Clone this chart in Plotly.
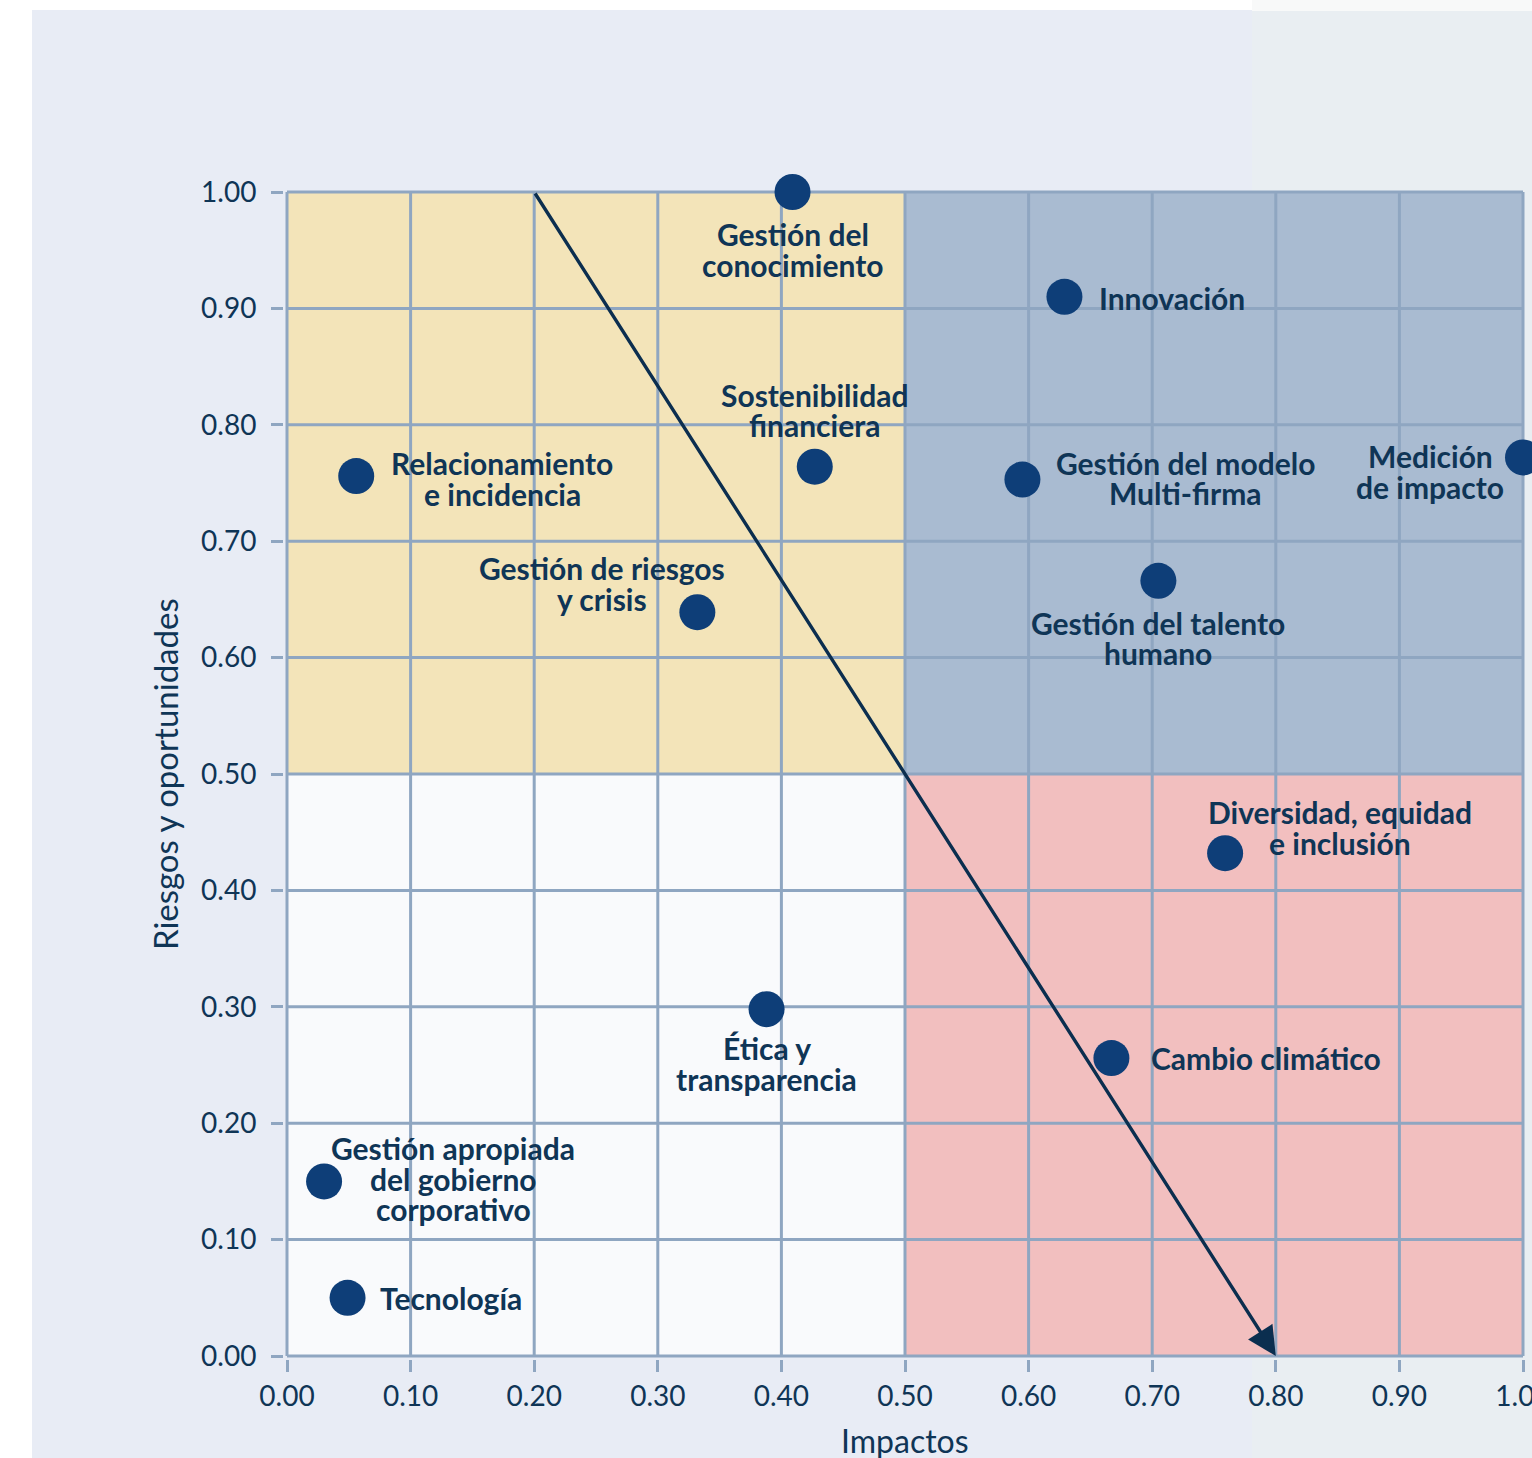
import plotly.graph_objects as go

# ---------------- data ----------------
topics = [
    "Gestión del<br>conocimiento",
    "Innovación",
    "Sostenibilidad<br>financiera",
    "Relacionamiento<br>e incidencia",
    "Gestión del modelo<br>Multi-firma",
    "Medición<br>de impacto",
    "Gestión del talento<br>humano",
    "Gestión de riesgos<br>y crisis",
    "Diversidad, equidad<br>e inclusión",
    "Ética y<br>transparencia",
    "Cambio climático",
    "Gestión apropiada<br>del gobierno<br>corporativo",
    "Tecnología",
]
impactos = [0.409, 0.629, 0.427, 0.056, 0.595, 1.00, 0.705, 0.332, 0.759, 0.388, 0.667, 0.030, 0.049]
riesgos = [1.00, 0.910, 0.764, 0.756, 0.753, 0.772, 0.666, 0.639, 0.432, 0.298, 0.256, 0.150, 0.050]

tick_vals = [0.0, 0.1, 0.2, 0.3, 0.4, 0.5, 0.6, 0.7, 0.8, 0.9, 1.0]
tick_text = ["0.00", "0.10", "0.20", "0.30", "0.40", "0.50", "0.60", "0.70", "0.80", "0.90", "1.00"]

arrow_start = (0.2, 1.0)
arrow_end = (0.8, 0.0)

x_title = "Impactos"
y_title = "Riesgos y oportunidades"

# ---------------- style ----------------
W, H = 1532, 1458
PX_X = 1236.0   # pixels per unit on x
PX_Y = 1164.0   # pixels per unit on y
PAD = 3
L_PX = 287 - PAD
T_PX = 192 - PAD
B_PX = H - 1356 - PAD
R_PX = 0
x_range = [-PAD / PX_X, (W - 287) / PX_X]
y_range = [-PAD / PX_Y, 1 + PAD / PX_Y]
PLOT_W = W - L_PX - R_PX
PLOT_H = H - T_PX - B_PX


def px_x(px):
    return (px - L_PX) / PLOT_W


def px_y(py):
    return (H - B_PX - py) / PLOT_H


TEXT = "#0f3556"
MARK = "#0e3e78"
GRID = "#8fa6c1"
BG = "#e8ecf5"
BG2 = "#e9eef2"
FONT = "Lato"

# label placement: (xanchor, dx, dy of first line) in pixels relative to marker
label_pos = [
    ("center", 0, 42),
    ("left", 33, 1),
    ("center", 0, -72),
    ("center", 146, -13),
    ("center", 163, -17),
    ("center", -93, -1),
    ("center", 0, 42),
    ("center", -95, -44),
    ("center", 115, -41),
    ("center", 0, 39),
    ("left", 38, 0),
    ("center", 129, -33),
    ("left", 30, 0),
]
LINE_STEP = 30.5

fig = go.Figure()

shapes = []
# page background panels (figure-pixel positions converted to paper coords)
shapes.append(dict(type="rect", xref="paper", yref="paper",
                   x0=px_x(32), x1=px_x(W + 5), y0=px_y(H + 5), y1=px_y(10),
                   fillcolor=BG, line=dict(width=0), layer="below"))
shapes.append(dict(type="rect", xref="paper", yref="paper",
                   x0=px_x(1252), x1=px_x(W + 5), y0=px_y(H + 5), y1=px_y(11),
                   fillcolor=BG2, line=dict(width=0), layer="below"))
shapes.append(dict(type="rect", xref="paper", yref="paper",
                   x0=px_x(1252), x1=px_x(W + 5), y0=px_y(11), y1=px_y(-5),
                   fillcolor="#f8f9f9", line=dict(width=0), layer="below"))
# quadrants
quads = [
    (0.0, 0.5, 0.0, 0.5, "#f9fafc"),
    (0.0, 0.5, 0.5, 1.0, "#f3e4b9"),
    (0.5, 1.0, 0.5, 1.0, "#a9bbd1"),
    (0.5, 1.0, 0.0, 0.5, "#f2bfbf"),
]
for x0, x1, y0, y1, c in quads:
    shapes.append(dict(type="rect", xref="x", yref="y", x0=x0, x1=x1, y0=y0, y1=y1,
                       fillcolor=c, line=dict(width=0), layer="below"))
# grid lines
for v in tick_vals:
    shapes.append(dict(type="line", xref="x", yref="y", x0=v, x1=v, y0=tick_vals[0], y1=tick_vals[-1],
                       line=dict(color=GRID, width=3), layer="below"))
    shapes.append(dict(type="line", xref="x", yref="y", y0=v, y1=v, x0=tick_vals[0], x1=tick_vals[-1],
                       line=dict(color=GRID, width=3), layer="below"))

fig.add_trace(go.Scatter(
    x=impactos, y=riesgos, mode="markers",
    marker=dict(size=36, color=MARK, line=dict(width=0)),
    cliponaxis=False, hoverinfo="skip", showlegend=False,
))

annotations = []
# arrow
annotations.append(dict(
    x=arrow_end[0], y=arrow_end[1], ax=arrow_start[0], ay=arrow_start[1],
    xref="x", yref="y", axref="x", ayref="y", text="", showarrow=True,
    arrowhead=2, arrowsize=1.7, arrowwidth=3.4, arrowcolor="#0b2e4f", standoff=0,
))
# labels (one annotation per line for tight leading)
for name, xv, yv, (anc, dx, dy) in zip(topics, impactos, riesgos, label_pos):
    for i, line in enumerate(name.split("<br>")):
        annotations.append(dict(
            x=xv, y=yv, xref="x", yref="y", text=line, showarrow=False,
            xanchor=anc, yanchor="middle", xshift=dx, yshift=-(dy + i * LINE_STEP),
            font=dict(family=FONT, size=30, color=TEXT, weight="bold"),
        ))
# axis titles
annotations.append(dict(x=0.5, y=0, xref="x", yref="y", text=x_title, showarrow=False,
                        xanchor="center", yanchor="middle", yshift=-84,
                        font=dict(family=FONT, size=32, color=TEXT)))
annotations.append(dict(x=0, y=0.5, xref="x", yref="y", text=y_title, showarrow=False,
                        xanchor="center", yanchor="middle", xshift=-122, textangle=-90,
                        font=dict(family=FONT, size=33, color=TEXT)))

axis_common = dict(
    tickvals=tick_vals, ticktext=tick_text, ticks="outside", ticklen=12, tickwidth=3,
    tickcolor=GRID, showgrid=False, zeroline=False, showline=False, fixedrange=True,
    tickfont=dict(family=FONT, size=28, color=TEXT), ticklabeloverflow="allow",
    automargin=False,
)

fig.update_layout(
    width=W, height=H,
    margin=dict(l=L_PX, r=R_PX, t=T_PX, b=B_PX, pad=0, autoexpand=False),
    paper_bgcolor="white", plot_bgcolor="rgba(0,0,0,0)",
    xaxis=dict(range=x_range, **axis_common),
    yaxis=dict(range=y_range, ticklabelstandoff=9, **axis_common),
    shapes=shapes, annotations=annotations, showlegend=False,
)

fig.write_html("out.html")
